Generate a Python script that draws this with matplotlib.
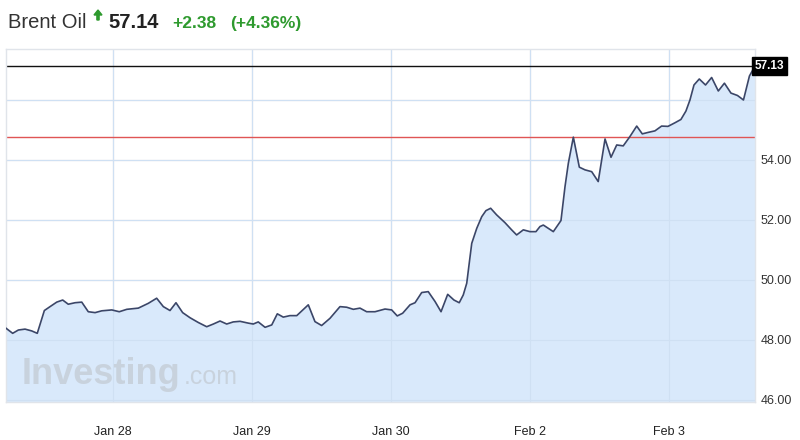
import matplotlib
matplotlib.use("Agg")
import matplotlib.pyplot as plt
from matplotlib.patches import FancyArrow
from matplotlib.transforms import IdentityTransform

# ---- data (x = trading-day index, Jan 28 = 0) ----
t = [-0.770, -0.722, -0.681, -0.633, -0.585, -0.545, -0.494, -0.453, -0.405, -0.362,
     -0.322, -0.273, -0.225, -0.178, -0.129, -0.081, -0.009, 0.045, 0.099, 0.182,
     0.254, 0.314, 0.362, 0.410, 0.453, 0.501, 0.554, 0.614, 0.674, 0.722,
     0.770, 0.818, 0.865, 0.914, 0.973, 1.009, 1.045, 1.094, 1.142, 1.182,
     1.225, 1.273, 1.322, 1.405, 1.453, 1.501, 1.561, 1.633, 1.681, 1.729,
     1.777, 1.825, 1.885, 1.957, 2.005, 2.045, 2.084, 2.137, 2.173, 2.221,
     2.268, 2.317, 2.360, 2.408, 2.453, 2.491, 2.520, 2.545, 2.563, 2.581,
     2.617, 2.653, 2.683, 2.717, 2.760, 2.820, 2.868, 2.904, 2.952, 3.000,
     3.043, 3.072, 3.096, 3.168, 3.223, 3.252, 3.276, 3.312, 3.355, 3.396,
     3.444, 3.491, 3.540, 3.583, 3.624, 3.671, 3.719, 3.768, 3.808, 3.851,
     3.899, 3.947, 3.993, 4.043, 4.086, 4.122, 4.151, 4.180, 4.218, 4.263,
     4.307, 4.355, 4.399, 4.446, 4.493, 4.536, 4.579, 4.619]
price = [48.39, 48.22, 48.33, 48.36, 48.30, 48.22, 48.98, 49.11, 49.26, 49.33,
         49.19, 49.24, 49.26, 48.94, 48.91, 48.97, 49.00, 48.94, 49.02, 49.06,
         49.22, 49.39, 49.11, 48.98, 49.24, 48.91, 48.74, 48.58, 48.44, 48.53,
         48.63, 48.53, 48.60, 48.62, 48.56, 48.53, 48.60, 48.42, 48.50, 48.87,
         48.76, 48.81, 48.81, 49.17, 48.61, 48.48, 48.72, 49.11, 49.09, 49.02,
         49.06, 48.94, 48.94, 49.03, 49.00, 48.80, 48.89, 49.17, 49.24, 49.58,
         49.61, 49.28, 48.94, 49.52, 49.33, 49.24, 49.50, 49.89, 50.56, 51.22,
         51.72, 52.11, 52.31, 52.39, 52.17, 51.91, 51.67, 51.50, 51.67, 51.61,
         51.61, 51.78, 51.83, 51.61, 51.98, 53.11, 53.89, 54.76, 53.76, 53.67,
         53.61, 53.28, 54.70, 54.09, 54.50, 54.47, 54.78, 55.13, 54.87, 54.92,
         54.97, 55.13, 55.12, 55.24, 55.35, 55.63, 56.00, 56.50, 56.70, 56.50,
         56.75, 56.30, 56.56, 56.23, 56.15, 56.00, 56.80, 57.13]

day_ticks = [0, 1, 2, 3, 4]
day_labels = ["Jan 28", "Jan 29", "Jan 30", "Feb 2", "Feb 3"]
y_grid = [46, 48, 50, 52, 54, 56]
y_labels = [46, 48, 50, 52, 54]
last_price = 57.13
prev_close = 54.76
title_name = "Brent Oil"
title_price = "57.14"
title_change = "+2.38"
title_pct = "(+4.36%)"

plt.rcParams['font.family'] = ['Liberation Sans', 'DejaVu Sans']

W, H = 800, 440
fig = plt.figure(figsize=(8, 4.4), dpi=100)
fig.patch.set_facecolor("white")

def fx(x):
    return x / W

def fy(y):
    return 1 - y / H

left, right, top, bottom = 6, 755, 49, 402
ax = fig.add_axes([fx(left), fy(bottom), (right - left) / W, (bottom - top) / H])
ax.set_facecolor("white")

ymin, ymax = 45.93, 57.70
ax.set_xlim(t[0], t[-1])
ax.set_ylim(ymin, ymax)

# grid
for g in y_grid:
    ax.axhline(g, color="#e6e9ee", lw=1.0, zorder=0)
for d in day_ticks:
    ax.axvline(d, color="#e6e9ee", lw=1.0, zorder=0)

ax.fill_between(t, price, ymin, color="#d9e9fb", zorder=1, lw=0)
# grid over fill (subtle)
for g in y_grid:
    ax.axhline(g, color="#cfe0f3", lw=0.8, zorder=1.5)
for d in day_ticks:
    ax.axvline(d, color="#cfe0f3", lw=0.8, zorder=1.5)
ax.plot(t, price, color="#3b4668", lw=1.2, zorder=3)

ax.axhline(prev_close, color="#e05555", lw=1.0, zorder=2.5)
ax.axhline(last_price, color="#111111", lw=1.0, zorder=2.5)

for s in ax.spines.values():
    s.set_color("#e0e4ea")
    s.set_linewidth(1.0)

ax.set_xticks(day_ticks)
ax.set_xticklabels(day_labels, fontsize=9, color="#222222")
ax.tick_params(axis="x", length=0, pad=17)
ax.yaxis.tick_right()
ax.set_yticks(y_labels)
ax.set_yticklabels([f"{v:.2f}" for v in y_labels], fontsize=9, color="#333333")
ax.tick_params(axis="y", length=0, pad=4)

# last price tag
ax.text(1.0, last_price, f"{last_price:.2f}", transform=ax.get_yaxis_transform(),
        fontsize=8.5, fontweight="bold", color="white", va="center", ha="left",
        bbox=dict(boxstyle="square,pad=0.25", fc="black", ec="black"), zorder=5,
        clip_on=False)

# watermark
wy = (bottom - 384) / (bottom - top)
ax.text(16 / (right - left), wy, "Investing",
        transform=ax.transAxes, fontsize=26, fontweight="bold", color="#c7d0da",
        alpha=0.9, va="baseline", ha="left", zorder=2)
ax.text(178 / (right - left), wy, ".com",
        transform=ax.transAxes, fontsize=18, color="#c7d0da",
        alpha=0.9, va="baseline", ha="left", zorder=2)

# header
fig.text(fx(8), fy(28), title_name, fontsize=14.5, color="#333333", va="baseline", ha="left")
arrow = FancyArrow(98, H - 20, 0, 10, width=2.2, head_width=8, head_length=5,
                   length_includes_head=True, color="#2e9a2e",
                   transform=IdentityTransform())
fig.add_artist(arrow)
fig.text(fx(108), fy(28), title_price, fontsize=14.5, fontweight="bold", color="#222222",
         va="baseline", ha="left")
fig.text(fx(172), fy(28), title_change, fontsize=12.5, fontweight="bold", color="#2e9a2e",
         va="baseline", ha="left")
fig.text(fx(230), fy(28), title_pct, fontsize=12.5, fontweight="bold", color="#2e9a2e",
         va="baseline", ha="left")

fig.savefig("out.png", dpi=100)
